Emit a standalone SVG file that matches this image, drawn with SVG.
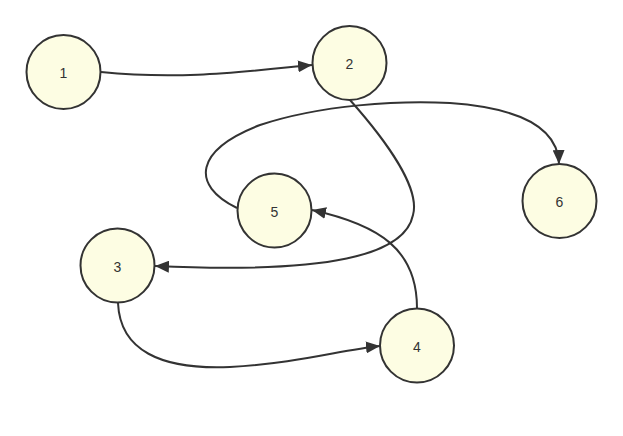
<svg xmlns="http://www.w3.org/2000/svg" width="623" height="436" viewBox="0 0 623 436">
<style>
.node circle{fill:#fdfde3;stroke:#333;stroke-width:2}
.node text{font-family:"Liberation Sans",Arial,sans-serif;font-size:14px;fill:#333;text-anchor:middle;dominant-baseline:central}
.edge{fill:none;stroke:#333;stroke-width:2}
</style>
<defs>
<marker id="arr" markerUnits="userSpaceOnUse" markerWidth="16" markerHeight="12" refX="14" refY="6" orient="auto">
<path d="M0,0 L14,6 L0,12 Z" fill="#333"/>
</marker>
</defs>
<rect width="623" height="436" fill="#fff"/>
<g id="edges">
<path class="edge" d="M101,72 C180,80 240,72 312,65" marker-end="url(#arr)"/>
<path class="edge" d="M350,100 C390,145 420,190 413,215 C405,255 330,274 155,266" marker-end="url(#arr)"/>
<path class="edge" d="M237,208 C190,185 195,150 260,125 C320,105 400,100 450,103 C520,108 558,128 559,164" marker-end="url(#arr)"/>
<path class="edge" d="M118,303 C120,350 160,370 230,367 C300,363 340,350 380,346" marker-end="url(#arr)"/>
<path class="edge" d="M417,308 C417,250 380,225 312,210" marker-end="url(#arr)"/>
</g>
<g id="n1" class="node"><circle cx="63.5" cy="72" r="37"/><text x="63.5" y="73">1</text></g>
<g id="n2" class="node"><circle cx="349.5" cy="63" r="37"/><text x="349.5" y="64">2</text></g>
<g id="n3" class="node"><circle cx="117.5" cy="265.5" r="37"/><text x="117.5" y="267">3</text></g>
<g id="n4" class="node"><circle cx="417" cy="345.5" r="37"/><text x="417" y="347">4</text></g>
<g id="n5" class="node"><circle cx="274.5" cy="210.5" r="37"/><text x="274.5" y="212">5</text></g>
<g id="n6" class="node"><circle cx="559.5" cy="201" r="37"/><text x="559.5" y="202">6</text></g>
</svg>
